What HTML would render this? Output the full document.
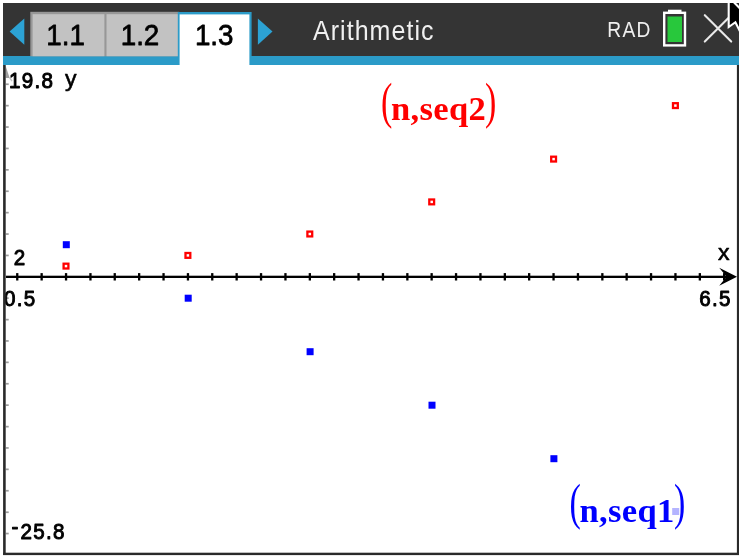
<!DOCTYPE html>
<html><head><meta charset="utf-8"><title>Arithmetic</title>
<style>
html,body{margin:0;padding:0;background:#fff;}
body{width:742px;height:558px;overflow:hidden;position:relative;}
svg{position:absolute;left:0;top:0;display:block;filter:blur(0.45px);}
text{font-family:"Liberation Sans",sans-serif;}
.ser{font-family:"Liberation Serif",serif;}
</style></head><body>
<svg width="742" height="558" viewBox="0 0 742 558">
<defs><clipPath id="hc"><rect x="3" y="3" width="736" height="62"/></clipPath></defs>
<rect x="0" y="0" width="742" height="558" fill="#fff"/>
<rect x="3" y="3" width="736" height="53.5" fill="#343434"/>
<rect x="3" y="56" width="736" height="9" fill="#2b9bc8"/>
<rect x="30.3" y="11.8" width="149" height="44.5" fill="#979797"/>
<rect x="32.6" y="14.2" width="71.8" height="42" fill="#c2c2c2"/>
<rect x="106.5" y="14.2" width="72" height="42" fill="#c2c2c2"/>
<rect x="177.8" y="12" width="73.8" height="45" fill="#2b9bc8"/>
<rect x="179.6" y="14.4" width="69.8" height="50.6" fill="#fff"/>
<polygon points="9.6,31.6 24.3,18.6 24.3,44.8" fill="#2ca2d4"/>
<polygon points="257.9,18.6 272.5,31.6 257.9,44.8" fill="#2ca2d4"/>
<text transform="translate(65.6,44.6) scale(1,1.08)" font-size="27.8" text-anchor="middle" fill="#000" stroke="#000" stroke-width="0.7" stroke-linejoin="round">1.1</text>
<text transform="translate(140.0,44.6) scale(1,1.08)" font-size="27.8" text-anchor="middle" fill="#000" stroke="#000" stroke-width="0.7" stroke-linejoin="round">1.2</text>
<text transform="translate(214.2,44.6) scale(1,1.08)" font-size="27.8" text-anchor="middle" fill="#000" stroke="#000" stroke-width="0.7" stroke-linejoin="round">1.3</text>
<text transform="translate(313,39.9) scale(1,1.14)" font-size="25" fill="#f0f0f0" textLength="120.5" lengthAdjust="spacing">Arithmetic</text>
<text transform="translate(607.2,37.3) scale(1,1.13)" font-size="19.2" fill="#efefef" textLength="43.2" lengthAdjust="spacing">RAD</text>
<rect x="668" y="9.7" width="13.5" height="4" fill="#fff"/>
<rect x="664.2" y="12.8" width="20.8" height="32.6" fill="none" stroke="#fff" stroke-width="2.4"/>
<rect x="667.5" y="16.5" width="14.5" height="25.5" fill="#28c83c"/>
<path d="M704.8,15.2 L731.2,41.6 M731.2,15.2 L704.8,41.6" stroke="#e9e9e9" stroke-width="2.1" fill="none" stroke-linecap="round"/>
<g clip-path="url(#hc)"><polygon points="728.7,-2.9 728.7,27 735.4,22.2 740.4,32.2 746,31 746,14.4" fill="#000" stroke="#fff" stroke-width="2.1" stroke-linejoin="miter"/></g>
<rect x="5.8" y="532.7" width="2.9" height="1.7" fill="#9c9c9c"/>
<rect x="5.8" y="511.4" width="2.9" height="1.7" fill="#9c9c9c"/>
<rect x="5.8" y="489.9" width="2.9" height="1.7" fill="#9c9c9c"/>
<rect x="5.8" y="468.5" width="2.9" height="1.7" fill="#9c9c9c"/>
<rect x="5.8" y="447.1" width="2.9" height="1.7" fill="#9c9c9c"/>
<rect x="5.8" y="425.8" width="2.9" height="1.7" fill="#9c9c9c"/>
<rect x="5.8" y="404.3" width="2.9" height="1.7" fill="#9c9c9c"/>
<rect x="5.8" y="382.9" width="2.9" height="1.7" fill="#9c9c9c"/>
<rect x="5.8" y="361.5" width="2.9" height="1.7" fill="#9c9c9c"/>
<rect x="5.8" y="340.1" width="2.9" height="1.7" fill="#9c9c9c"/>
<rect x="5.8" y="318.8" width="2.9" height="1.7" fill="#9c9c9c"/>
<rect x="5.8" y="297.3" width="2.9" height="1.7" fill="#9c9c9c"/>
<rect x="5.8" y="254.6" width="2.9" height="1.7" fill="#9c9c9c"/>
<rect x="5.8" y="233.2" width="2.9" height="1.7" fill="#9c9c9c"/>
<rect x="5.8" y="211.8" width="2.9" height="1.7" fill="#9c9c9c"/>
<rect x="5.8" y="190.4" width="2.9" height="1.7" fill="#9c9c9c"/>
<rect x="5.8" y="169.0" width="2.9" height="1.7" fill="#9c9c9c"/>
<rect x="5.8" y="147.6" width="2.9" height="1.7" fill="#9c9c9c"/>
<rect x="5.8" y="126.2" width="2.9" height="1.7" fill="#9c9c9c"/>
<rect x="5.8" y="104.8" width="2.9" height="1.7" fill="#9c9c9c"/>
<rect x="5.8" y="83.4" width="2.9" height="1.7" fill="#9c9c9c"/>
<path d="M5.5,65.5 L9.6,78 L5.5,78 Z" fill="#a0a0a0"/>
<path d="M9.6,77.5 l2.4,3.6" stroke="#c4c4c4" stroke-width="1.4" fill="none"/>
<rect x="6" y="275.7" width="722" height="2.3" fill="#000"/>
<rect x="16.1" y="273.1" width="2.3" height="7.4" fill="#000"/>
<rect x="40.5" y="273.1" width="2.3" height="7.4" fill="#000"/>
<rect x="64.9" y="273.1" width="2.3" height="7.4" fill="#000"/>
<rect x="89.3" y="273.1" width="2.3" height="7.4" fill="#000"/>
<rect x="113.6" y="273.1" width="2.3" height="7.4" fill="#000"/>
<rect x="138.0" y="273.1" width="2.3" height="7.4" fill="#000"/>
<rect x="162.4" y="273.1" width="2.3" height="7.4" fill="#000"/>
<rect x="186.8" y="273.1" width="2.3" height="7.4" fill="#000"/>
<rect x="211.1" y="273.1" width="2.3" height="7.4" fill="#000"/>
<rect x="235.5" y="273.1" width="2.3" height="7.4" fill="#000"/>
<rect x="259.9" y="273.1" width="2.3" height="7.4" fill="#000"/>
<rect x="284.3" y="273.1" width="2.3" height="7.4" fill="#000"/>
<rect x="308.7" y="273.1" width="2.3" height="7.4" fill="#000"/>
<rect x="333.0" y="273.1" width="2.3" height="7.4" fill="#000"/>
<rect x="357.4" y="273.1" width="2.3" height="7.4" fill="#000"/>
<rect x="381.8" y="273.1" width="2.3" height="7.4" fill="#000"/>
<rect x="406.2" y="273.1" width="2.3" height="7.4" fill="#000"/>
<rect x="430.5" y="273.1" width="2.3" height="7.4" fill="#000"/>
<rect x="454.9" y="273.1" width="2.3" height="7.4" fill="#000"/>
<rect x="479.3" y="273.1" width="2.3" height="7.4" fill="#000"/>
<rect x="503.7" y="273.1" width="2.3" height="7.4" fill="#000"/>
<rect x="528.0" y="273.1" width="2.3" height="7.4" fill="#000"/>
<rect x="552.4" y="273.1" width="2.3" height="7.4" fill="#000"/>
<rect x="576.8" y="273.1" width="2.3" height="7.4" fill="#000"/>
<rect x="601.2" y="273.1" width="2.3" height="7.4" fill="#000"/>
<rect x="625.5" y="273.1" width="2.3" height="7.4" fill="#000"/>
<rect x="649.9" y="273.1" width="2.3" height="7.4" fill="#000"/>
<rect x="674.3" y="273.1" width="2.3" height="7.4" fill="#000"/>
<rect x="698.7" y="273.1" width="2.3" height="7.4" fill="#000"/>
<rect x="723.0" y="273.1" width="2.3" height="7.4" fill="#000"/>
<polygon points="737,276.8 719.2,267.8 726.6,276.8 719.2,285.8" fill="#000"/>
<text transform="translate(8.9,87.9) scale(1,1.09)" font-size="20.6" letter-spacing="1.3" fill="#000" stroke="#000" stroke-width="0.9" stroke-linejoin="round">19.8</text>
<text transform="translate(64.9,85.9) scale(1.08,1)" font-size="21.4" fill="#000" stroke="#000" stroke-width="0.55" stroke-linejoin="round">y</text>
<text transform="translate(13.7,265.2) scale(1,1.09)" font-size="20.6" letter-spacing="1.3" fill="#000" stroke="#000" stroke-width="0.9" stroke-linejoin="round">2</text>
<text transform="translate(3.9,306.4) scale(1,1.09)" font-size="20.6" letter-spacing="1.3" fill="#000" stroke="#000" stroke-width="0.9" stroke-linejoin="round">0.5</text>
<text transform="translate(699.2,306.2) scale(1,1.09)" font-size="20.6" letter-spacing="1.3" fill="#000" stroke="#000" stroke-width="0.9" stroke-linejoin="round">6.5</text>
<text transform="translate(718.0,260.4) scale(1.08,1)" font-size="21.4" fill="#000" stroke="#000" stroke-width="0.55" stroke-linejoin="round">x</text>
<text transform="translate(11.5,534.2) scale(1,1.09)" font-size="20.6" letter-spacing="1.3" fill="#000" stroke="#000" stroke-width="0.9" stroke-linejoin="round">-</text>
<text transform="translate(20.5,539.3) scale(1,1.09)" font-size="20.6" letter-spacing="1.3" fill="#000" stroke="#000" stroke-width="0.9" stroke-linejoin="round">25.8</text>
<rect x="62.8" y="241.2" width="7" height="7" fill="#0000ff"/>
<rect x="184.7" y="294.7" width="7" height="7" fill="#0000ff"/>
<rect x="306.6" y="348.2" width="7" height="7" fill="#0000ff"/>
<rect x="428.5" y="401.7" width="7" height="7" fill="#0000ff"/>
<rect x="550.4" y="455.2" width="7" height="7" fill="#0000ff"/>
<rect x="672.2" y="508.0" width="7" height="7" fill="#b4b4ff"/>
<rect x="63.6" y="263.7" width="4.8" height="4.8" fill="#fff" stroke="#ff0000" stroke-width="2.3"/>
<rect x="185.5" y="253.0" width="4.8" height="4.8" fill="#fff" stroke="#ff0000" stroke-width="2.3"/>
<rect x="307.4" y="231.6" width="4.8" height="4.8" fill="#fff" stroke="#ff0000" stroke-width="2.3"/>
<rect x="429.3" y="199.5" width="4.8" height="4.8" fill="#fff" stroke="#ff0000" stroke-width="2.3"/>
<rect x="551.2" y="156.7" width="4.8" height="4.8" fill="#fff" stroke="#ff0000" stroke-width="2.3"/>
<rect x="673.0" y="103.2" width="4.8" height="4.8" fill="#fff" stroke="#ff0000" stroke-width="2.3"/>
<text class="ser" transform="translate(381.0,117.5) scale(1,1.47)" font-size="34" fill="#ff0000">(</text>
<text class="ser" x="391.0" y="120.0" font-size="34.6" letter-spacing="0.3" font-weight="bold" fill="#ff0000">n,seq2</text>
<text class="ser" transform="translate(485.0,117.5) scale(1,1.47)" font-size="34" fill="#ff0000">)</text>
<text class="ser" transform="translate(569.5,519.2) scale(1,1.47)" font-size="34" fill="#0000ff">(</text>
<text class="ser" x="579.5" y="521.7" font-size="34.6" letter-spacing="0.3" font-weight="bold" fill="#0000ff">n,seq1</text>
<text class="ser" transform="translate(674.0,519.2) scale(1,1.47)" font-size="34" fill="#0000ff">)</text>
<rect x="3.1" y="65" width="2.6" height="490" fill="#2a2a2a"/>
<rect x="3.1" y="552.7" width="735.9" height="2.4" fill="#2a2a2a"/>
<rect x="736.9" y="65" width="2.1" height="490" fill="#2a2a2a"/>
</svg>
</body></html>
